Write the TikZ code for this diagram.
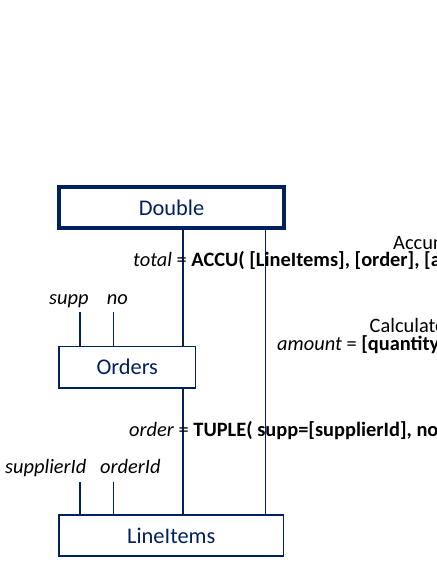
\documentclass[tikz,border=0pt]{standalone}
\usepackage{fontspec}
\setmainfont{Carlito}
\definecolor{navy}{RGB}{0,32,96}
\begin{document}
\begin{tikzpicture}[x=1pt,y=-1pt,
  tbl/.style={draw=navy,line width=1.5pt,text=navy,font=\fontsize{22.4}{22.4}\selectfont,inner sep=0pt},
  conn/.style={draw=navy,line width=1.5pt},
  lbl/.style={anchor=base west,inner sep=0pt,font=\fontsize{20.4}{20.4}\selectfont}]
\useasboundingbox (0,0) rectangle (436,564);
\clip (0,0) rectangle (436,564);
\fill[white] (0,0) rectangle (436,564);
% tables
\node[tbl,line width=4pt,minimum width=225pt,minimum height=41pt] (D) at (171.5,207.5) {Double};
\node[tbl,minimum width=136.5pt,minimum height=41.5pt] (O) at (127.25,367.25) {Orders};
\node[tbl,minimum width=224.5pt,minimum height=41pt] (L) at (171.25,535.5) {LineItems};
% connector x positions
\coordinate (xa) at (183,0);
\coordinate (xb) at (265.5,0);
\coordinate (s1) at (80,312);
\coordinate (s2) at (113.3,312);
\coordinate (s3) at (80,482);
\coordinate (s4) at (113.3,482);
\draw[conn] (D.south -| xa) -- (O.north -| xa);
\draw[conn] (O.south -| xa) -- (L.north -| xa);
\draw[conn] (D.south -| xb) -- (L.north -| xb);
\draw[conn] (s1) -- (O.north -| s1);
\draw[conn] (s2) -- (O.north -| s2);
\draw[conn] (s3) -- (L.north -| s3);
\draw[conn] (s4) -- (L.north -| s4);
% labels
\node[lbl] (lsupp) at (49,304.3) {\textit{supp}};
\node[lbl] (lno) at (106.7,304.3) {\textit{no}};
\node[lbl] (lsid) at (5,473.5) {\textit{supplierId}};
\node[lbl] (loid) at (100,473.5) {\textit{orderId}};
\node[lbl] (acc) at (393,249) {Accumulate};
\node[lbl] (tot) at (133,266.5) {\textit{total} = \textbf{ACCU( [LineItems], [order], [amount] )}};
\node[lbl] (calc) at (369.5,332.7) {Calculate};
\node[lbl] (amt) at (277,350) {\textit{amount} = \textbf{[quantity] * [price]}};
\node[lbl] (ord) at (129,436) {\textit{order} = \textbf{TUPLE( supp=[supplierId], no=[orderId] )}};
\end{tikzpicture}
\end{document}
